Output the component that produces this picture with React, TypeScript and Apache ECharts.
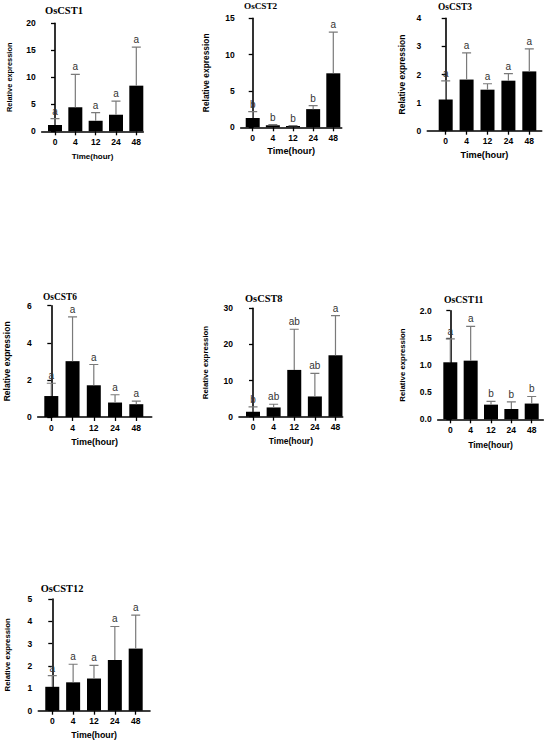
import React, { useEffect, useRef } from "react";
import * as echarts from "echarts";

const categories = ["0", "4", "12", "24", "48"];

const cst1Mean = [1.17, 4.45, 1.95, 3.07, 8.45];
const cst1Upper = [2.33, 10.55, 3.45, 5.6, 15.6];
const cst1Letters = ["a", "a", "a", "a", "a"];

const cst2Mean = [1.28, 0.28, 0.18, 2.5, 7.43];
const cst2Upper = [2.15, 0.38, 0.24, 2.98, 13.1];
const cst2Letters = ["b", "b", "b", "b", "a"];

const cst3Mean = [1.11, 1.82, 1.46, 1.78, 2.11];
const cst3Upper = [1.77, 2.77, 1.67, 2.03, 2.91];
const cst3Letters = ["a", "a", "a", "a", "a"];

const cst6Mean = [1.13, 3.01, 1.71, 0.78, 0.69];
const cst6Upper = [1.82, 5.4, 2.83, 1.2, 0.86];
const cst6Letters = ["a", "a", "a", "a", "a"];

const cst8Mean = [1.37, 2.56, 12.95, 5.6, 17.0];
const cst8Upper = [2.7, 3.45, 24.2, 12.0, 28.0];
const cst8Letters = ["b", "ab", "ab", "ab", "a"];

const cst11Mean = [1.05, 1.08, 0.27, 0.19, 0.29];
const cst11Upper = [1.48, 1.71, 0.33, 0.32, 0.42];
const cst11Letters = ["a", "a", "b", "b", "b"];

const cst12Mean = [1.07, 1.27, 1.44, 2.27, 2.78];
const cst12Upper = [1.57, 2.08, 2.03, 3.77, 4.28];
const cst12Letters = ["a", "a", "a", "a", "a"];

const titles = ["OsCST1", "OsCST2", "OsCST3", "OsCST6", "OsCST8", "OsCST11", "OsCST12"];
const yMaxes = [20, 15, 4, 6, 30, 2, 5];
const yIntervals = [5, 5, 1, 2, 10, 0.5, 1];
const yDecimals = [0, 0, 0, 0, 0, 1, 0];

const means = [cst1Mean, cst2Mean, cst3Mean, cst6Mean, cst8Mean, cst11Mean, cst12Mean];
const uppers = [cst1Upper, cst2Upper, cst3Upper, cst6Upper, cst8Upper, cst11Upper, cst12Upper];
const letters = [cst1Letters, cst2Letters, cst3Letters, cst6Letters, cst8Letters, cst11Letters, cst12Letters];

const layout = [
  { ax: 41.7, end: 143.3, top: 23.3, y0: 131.3, xmin: -0.654, xmax: 4.344, tx: 45, ty: 11, ts: 10.5, yns: 7.4, yng: 29, xns: 8, xng: 21 },
  { ax: 240.7, end: 341.7, top: 18.3, y0: 127.3, xmin: -0.596, xmax: 4.417, tx: 244, ty: 7.5, ts: 9.2, yns: 8.4, yng: 31, xns: 9.2, xng: 18.8 },
  { ax: 427.3, end: 541.7, top: 18.3, y0: 130.7, xmin: -0.88, xmax: 4.593, tx: 438, ty: 8, ts: 9.4, yns: 8.5, yng: 21, xns: 9.2, xng: 19.7 },
  { ax: 37.7, end: 151.7, top: 305.7, y0: 417, xmin: -0.64, xmax: 4.725, tx: 43, ty: 298, ts: 9.4, yns: 8.5, yng: 26, xns: 9, xng: 20.2 },
  { ax: 239, end: 342.7, top: 308.3, y0: 416.7, xmin: -0.68, xmax: 4.35, tx: 245, ty: 299.3, ts: 10.4, yns: 7.8, yng: 30, xns: 8.5, xng: 20 },
  { ax: 437.7, end: 543.3, top: 310.7, y0: 419.3, xmin: -0.62, xmax: 4.57, tx: 444, ty: 300, ts: 9.7, yns: 7.8, yng: 31, xns: 8.6, xng: 20.7 },
  { ax: 38.3, end: 150, top: 599, y0: 710.7, xmin: -0.67, xmax: 4.686, tx: 40.7, ty: 590, ts: 10.4, yns: 7.8, yng: 27, xns: 8.8, xng: 19.9 },
];

const SANS = "'Liberation Sans', Arial, sans-serif";
const SERIF = "'Liberation Serif', 'Times New Roman', serif";
const tickIdx = [0, 1, 2, 3, 4];

export default function App() {
  const ref = useRef<HTMLDivElement>(null);
  useEffect(() => {
    document.body.style.margin = "0";
    if (!ref.current) return;
    const chart = echarts.init(ref.current, null, { renderer: "svg" });

    const grid: any[] = [];
    const xAxis: any[] = [];
    const yAxis: any[] = [];
    const series: any[] = [];
    const title: any[] = [];

    layout.forEach((L, i) => {
      grid.push({ left: L.ax, top: L.top, width: L.end - L.ax, height: L.y0 - L.top, containLabel: false });
      title.push({
        text: titles[i],
        left: L.tx,
        top: L.ty - L.ts * 0.6,
        padding: 0,
        textStyle: { fontFamily: SERIF, fontWeight: "bold", fontSize: L.ts, color: "#000" },
      });
      xAxis.push({
        gridIndex: i,
        type: "value",
        min: L.xmin,
        max: L.xmax,
        splitLine: { show: false },
        axisLine: { show: true, lineStyle: { color: "#000", width: 1.6 } },
        axisTick: { show: true, length: 4, customValues: tickIdx, lineStyle: { color: "#000", width: 1.3 } },
        axisLabel: {
          customValues: tickIdx,
          formatter: (v: number) => categories[Math.round(v)] ?? "",
          margin: 6,
          fontFamily: SANS,
          fontWeight: "bold",
          fontSize: 8.5,
          color: "#000",
        },
        name: "Time(hour)",
        nameLocation: "middle",
        nameGap: L.xng,
        nameTextStyle: { fontFamily: SANS, fontWeight: "bold", fontSize: L.xns, color: "#000", verticalAlign: "top" },
      });
      yAxis.push({
        gridIndex: i,
        type: "value",
        min: 0,
        max: yMaxes[i],
        interval: yIntervals[i],
        splitLine: { show: false },
        axisLine: { show: true, lineStyle: { color: "#000", width: 1.6 } },
        axisTick: { show: true, length: 4, lineStyle: { color: "#000", width: 1.3 } },
        axisLabel: {
          formatter: (v: number) => v.toFixed(yDecimals[i]),
          margin: 6,
          fontFamily: SANS,
          fontWeight: "bold",
          fontSize: 8.5,
          color: "#000",
        },
        name: "Relative expression",
        nameLocation: "middle",
        nameGap: L.yng,
        nameTextStyle: { fontFamily: SANS, fontWeight: "bold", fontSize: L.yns, color: "#000" },
      });
      series.push({
        type: "bar",
        xAxisIndex: i,
        yAxisIndex: i,
        barWidth: 14,
        silent: true,
        itemStyle: { color: "#000" },
        data: means[i].map((v, k) => [k, v]),
        z: 2,
      });
      series.push({
        type: "custom",
        xAxisIndex: i,
        yAxisIndex: i,
        z: 3,
        silent: true,
        data: means[i].map((v, k) => [k, v, uppers[i][k]]),
        renderItem: (params: any, api: any) => {
          const x = api.value(0);
          const m = api.value(1);
          const u = api.value(2);
          const p0 = api.coord([x, m]);
          const p1 = api.coord([x, u]);
          const st = { stroke: "#7a7a7a", lineWidth: 1.2, fill: null };
          return {
            type: "polyline",
            shape: {
              points: [
                [p0[0], p0[1]],
                [p1[0], p1[1]],
                [p1[0] - 4.5, p1[1]],
                [p1[0] + 4.5, p1[1]],
              ],
            },
            style: st,
          };
        },
      });
      const lets = letters[i];
      series.push({
        type: "custom",
        xAxisIndex: i,
        yAxisIndex: i,
        z: 5,
        silent: true,
        data: uppers[i].map((u, k) => [k, u]),
        renderItem: (params: any, api: any) => {
          const p = api.coord([api.value(0), api.value(1)]);
          return {
            type: "text",
            x: p[0],
            y: p[1] - 2.5,
            style: {
              text: lets[params.dataIndex],
              align: "center",
              verticalAlign: "bottom",
              fontSize: 10,
              fontFamily: SANS,
              fill: "#333",
            },
          };
        },
      });
    });

    chart.setOption({
      animation: false,
      backgroundColor: "#fff",
      title,
      grid,
      xAxis,
      yAxis,
      series,
    });
    return () => chart.dispose();
  }, []);
  return <div ref={ref} style={{ width: 550, height: 744 }} />;
}
